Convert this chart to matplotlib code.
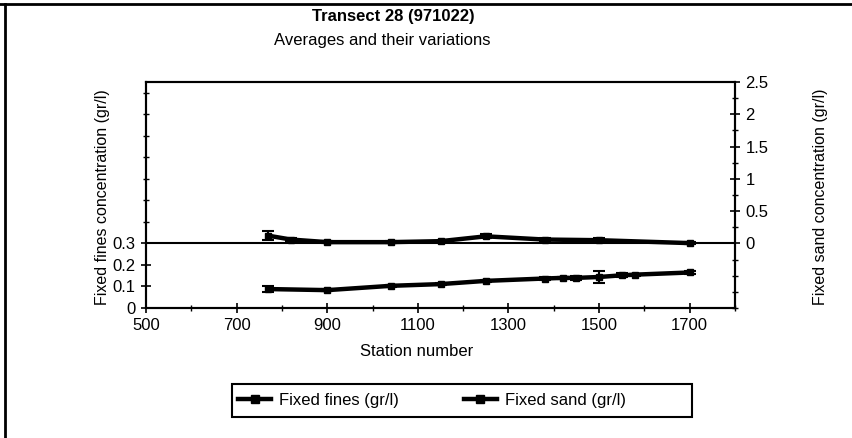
import numpy as np
import matplotlib.pyplot as plt
from matplotlib.lines import Line2D
from matplotlib.patches import Rectangle
from matplotlib.ticker import MultipleLocator, FixedLocator

plt.rcParams['font.family'] = ['Liberation Sans', 'DejaVu Sans']

# Fixed fines (left axis)
fines_station = [770, 900, 1040, 1150, 1250, 1380, 1420, 1450, 1500, 1550, 1580, 1700]
fines_conc = [0.088, 0.083, 0.103, 0.111, 0.126, 0.137, 0.140, 0.140, 0.144, 0.152, 0.155, 0.165]
fines_err = [0.012, 0.005, 0.005, 0.005, 0.006, 0.005, 0.006, 0.010, 0.030, 0.010, 0.005, 0.008]

# Fixed sand (right axis)
sand_station = [770, 820, 900, 1040, 1150, 1250, 1380, 1500, 1700]
sand_conc = [0.12, 0.06, 0.02, 0.02, 0.035, 0.11, 0.06, 0.05, 0.005]
sand_err = [0.07, 0.02, 0.01, 0.01, 0.01, 0.03, 0.03, 0.03, 0.01]

left_ticks = [0, 0.1, 0.2, 0.3]
right_ticks = [0, 0.5, 1, 1.5, 2, 2.5]
x_ticks = [500, 700, 900, 1100, 1300, 1500, 1700]

fig = plt.figure(figsize=(8.52, 4.38), dpi=100)
ax1 = fig.add_axes([146 / 852, 1 - 308 / 438, (735 - 146) / 852, (308 - 82) / 438])
ax2 = ax1.twinx()

ax1.errorbar(fines_station, fines_conc, yerr=fines_err, color='black', lw=3.2,
             marker='s', ms=5, capsize=4, elinewidth=1.5, capthick=1.5)
ax2.errorbar(sand_station, sand_conc, yerr=sand_err, color='black', lw=3.2,
             marker='s', ms=5, capsize=4, elinewidth=1.5, capthick=1.5)
ax2.axhline(0, color='black', lw=1.5)

ax1.set_xlim(500, 1800)
ax1.set_ylim(0, 1.05)
ax2.set_ylim(-1, 2.5)

ax1.set_xticks(x_ticks)
ax1.set_xticklabels([str(t) for t in x_ticks])
ax1.xaxis.set_minor_locator(MultipleLocator(100))
ax1.set_yticks(left_ticks)
ax1.set_yticklabels(['0', '0.1', '0.2', '0.3'])
ax1.yaxis.set_minor_locator(FixedLocator(np.arange(0.4, 1.05, 0.1)))

ax2.set_yticks(right_ticks)
ax2.set_yticklabels(['0', '0.5', '1', '1.5', '2', '2.5'])
ax2.yaxis.set_minor_locator(FixedLocator([-1, -0.75, -0.5, -0.25, 0.25, 0.75, 1.25, 1.75, 2.25]))

for ax in (ax1, ax2):
    ax.tick_params(which='major', direction='inout', length=7, width=1.2, labelsize=12, pad=4)
    ax.tick_params(which='minor', direction='inout', length=4, width=1)
    for s in ax.spines.values():
        s.set_linewidth(1.5)

fig.text(393 / 852, 1 - 17 / 438, 'Transect 28 (971022)', ha='center', va='center',
         fontsize=12, fontweight='bold')
fig.text(382 / 852, 1 - 41 / 438, 'Averages and their variations', ha='center', va='center',
         fontsize=12)
fig.text(417 / 852, 1 - 352 / 438, 'Station number', ha='center', va='center', fontsize=12)
fig.text(103 / 852, 1 - 197 / 438, 'Fixed fines concentration (gr/l)', rotation=90,
         ha='center', va='center', fontsize=11.5)
fig.text(820 / 852, 1 - 197 / 438, 'Fixed sand concentration (gr/l)', rotation=90,
         ha='center', va='center', fontsize=11.5)

# legend box drawn separately, it is wider than its entries
fig.add_artist(Rectangle((232 / 852, 1 - 417 / 438), (692 - 232) / 852, 33 / 438,
                         transform=fig.transFigure, fill=False, edgecolor='black', lw=1.5))
handles = [Line2D([], [], color='black', lw=3.2, marker='s', ms=5.5),
           Line2D([], [], color='black', lw=3.2, marker='s', ms=5.5)]
fig.legend(handles, ['Fixed fines (gr/l)', 'Fixed sand (gr/l)'], ncol=2,
           loc='center left', bbox_to_anchor=(238 / 852, 1 - 400 / 438),
           frameon=False, fontsize=12, handlelength=2.0, handletextpad=0.45,
           columnspacing=3.9, borderpad=0, borderaxespad=0)

# page border from the scan
fig.add_artist(Line2D([5 / 852, 5 / 852], [0, 1 - 4 / 438], color='black', lw=2,
                      transform=fig.transFigure))
fig.add_artist(Line2D([0, 1], [1 - 4 / 438, 1 - 4 / 438], color='black', lw=2,
                      transform=fig.transFigure))

fig.savefig('out.png', dpi=100)
